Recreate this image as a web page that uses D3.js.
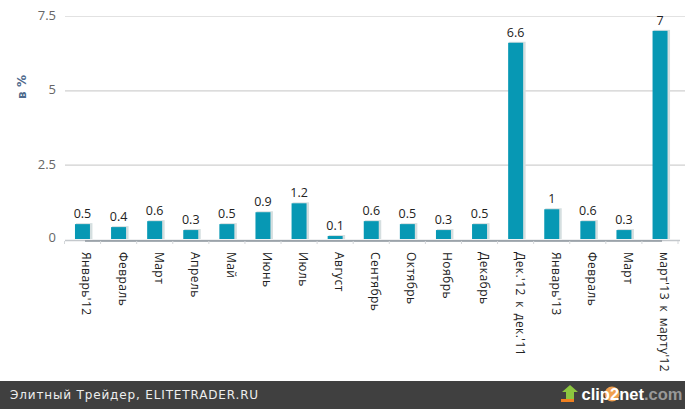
<!DOCTYPE html>
<html><head><meta charset="utf-8">
<script src="https://cdnjs.cloudflare.com/ajax/libs/d3/7.8.5/d3.min.js"></script>
<style>html,body{margin:0;padding:0;background:#fff;overflow:hidden}svg{display:block}</style>
</head><body><svg id="c" width="685" height="409"></svg>
<script>
const categories=["Январь'12","Февраль","Март","Апрель","Май","Июнь","Июль","Август","Сентябрь","Октябрь","Ноябрь","Декабрь","Дек.'12 к дек.'11","Январь'13","Февраль","Март","март'13 к марту'12"];
const values=[0.5,0.4,0.6,0.3,0.5,0.9,1.2,0.1,0.6,0.5,0.3,0.5,6.6,1,0.6,0.3,7];
const yTicks=[0,2.5,5,7.5];
const svg=d3.select("#c");
const x=d3.scaleBand().domain(d3.range(categories.length)).range([64.5,678]).paddingInner(0.585).paddingOuter(0.29);
const y=d3.scaleLinear().domain([0,7.5]).range([239,16]);
const font="'Open Sans','DejaVu Sans',sans-serif";
svg.append("g").selectAll("line").data(yTicks.slice(1)).join("line")
 .attr("x1",65).attr("x2",685).attr("y1",d=>y(d)+.5).attr("y2",d=>y(d)+.5).attr("stroke",d=>d===7.5?"#e2e2e2":"#d0d0d0").attr("stroke-width",1.2);
svg.append("g").selectAll("text").data(yTicks).join("text")
 .attr("x",56).attr("y",d=>y(d)+(d===0?3:4)).attr("text-anchor","end").attr("font-family",font).attr("font-size",13).attr("fill","#666").text(d=>d);
svg.append("text").attr("transform","translate(26,87) rotate(-90)").attr("text-anchor","middle").attr("font-family","'DejaVu Sans',sans-serif").attr("font-weight","bold").attr("font-size",12).attr("fill","#4e6a8c").text("в %");
svg.append("g").selectAll("rect").data(values).join("rect")
 .attr("x",(d,i)=>x(i)+1).attr("y",d=>y(d)-1).attr("width",x.bandwidth()+1.5).attr("height",d=>y(0)-y(d)+1).attr("fill","#d5dfe0");
svg.append("line").attr("x1",65).attr("x2",680).attr("y1",240.5).attr("y2",240.5).attr("stroke","#c4c8cc").attr("stroke-width",1.5);
svg.append("line").attr("x1",85).attr("x2",662).attr("y1",241).attr("y2",241).attr("stroke","#8f979f").attr("stroke-width",1.5);
svg.append("g").selectAll("line").data(d3.range(categories.length+1)).join("line")
 .attr("x1",i=>64.5+i*(678-64.5)/17).attr("x2",i=>64.5+i*(678-64.5)/17).attr("y1",241).attr("y2",244).attr("stroke","#d4d7da");
svg.append("g").selectAll("rect").data(values).join("rect")
 .attr("x",(d,i)=>x(i)).attr("y",d=>y(d)).attr("width",x.bandwidth()).attr("height",d=>y(0)-y(d)).attr("fill","#0798b4");
svg.append("g").selectAll("text").data(values).join("text")
 .attr("x",(d,i)=>x(i)+x.bandwidth()/2).attr("y",d=>y(d)-6).attr("text-anchor","middle").attr("font-family",font).attr("font-size",12.5).attr("fill","#222").text(d=>d);
svg.append("g").selectAll("text").data(categories).join("text")
 .attr("transform",(d,i)=>`translate(${x(i)+x.bandwidth()/2},252) rotate(90)`)
 .attr("font-family",font).attr("font-size",12).attr("letter-spacing",.45).attr("word-spacing",2).attr("fill","#222").text(d=>d);
svg.append("rect").attr("x",0).attr("y",381).attr("width",685).attr("height",28).attr("fill","#404040");
svg.append("text").attr("x",10).attr("y",399).attr("font-family","'DejaVu Sans',sans-serif").attr("font-size",12).attr("letter-spacing",.85).attr("fill","#eee").text("Элитный Трейдер, ELITETRADER.RU");
svg.append("path").attr("d","M562 392L570 385L578 392L574 392L574 399L566 399L566 392Z").attr("fill","#8cc63f");
svg.append("rect").attr("x",561).attr("y",399).attr("width",13).attr("height",3).attr("fill","#f08020");
svg.append("circle").attr("cx",612).attr("cy",394).attr("r",7.5).attr("fill","#f0a050");
const t=svg.append("text").attr("x",581.5).attr("y",400).attr("font-family","'Liberation Sans',sans-serif").attr("font-weight","bold").attr("font-size",16.5);
t.append("tspan").attr("fill","#fff").text("clip");
t.append("tspan").attr("fill","#fff").text("2");
t.append("tspan").attr("fill","#fff").text("net");
t.append("tspan").attr("fill","#999").text(".com");
</script></body></html>
